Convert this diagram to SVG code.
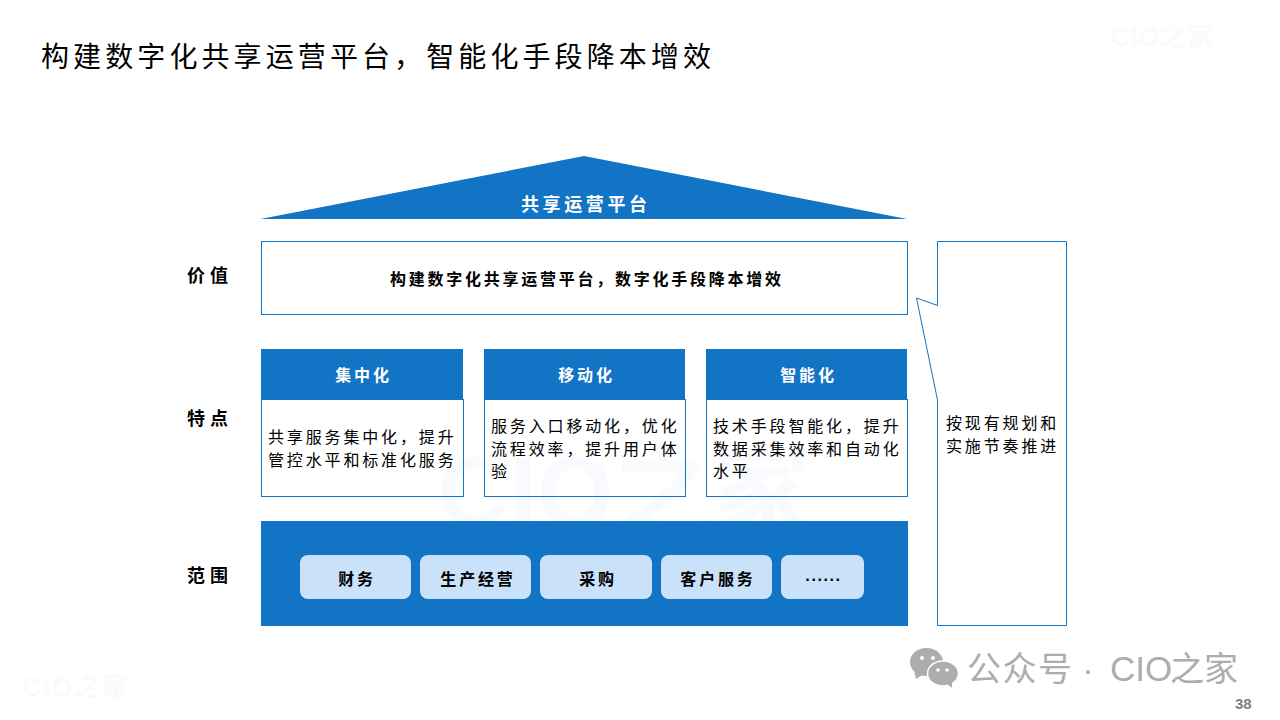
<svg xmlns="http://www.w3.org/2000/svg" width="1280" height="720" viewBox="0 0 1280 720">
<style>
text{font-family:"Noto Sans CJK SC","Liberation Sans",sans-serif;fill:#000}
.b{font-weight:700}
.s16{font-size:16px;letter-spacing:2.85px}
.s18{font-size:18px;letter-spacing:3.6px}
.lab{letter-spacing:5px}
.c{text-anchor:middle}
.w{fill:#fff}
.fill{fill:#1274C4}
.line{fill:#fff;fill-opacity:0;stroke:#1274C4;stroke-width:1}
.pill{fill:#C9E2F9}
.wm{font-family:"Liberation Sans","Noto Sans CJK SC",sans-serif;font-weight:700;fill:#F9FAFD}
.gr{fill:#ADADAD}
</style>
<rect width="1280" height="720" fill="#fff"/>
<g id="watermarks">
<text class="wm" x="1111" y="46" font-size="26" textLength="102">CIO之家</text>
<text class="wm" x="22" y="696" font-size="26" textLength="106">CIO之家</text>
<text class="wm" x="438" y="526" font-size="98" textLength="372">CIO之家</text>
</g>
<text id="title" x="41" y="67" font-size="28" letter-spacing="4.100">构建数字化共享运营平台，智能化手段降本增效</text>
<g id="roof">
<polygon class="fill" points="260.500,219 584,156 907,219"/>
<text class="b s18 c w" x="585.800" y="211">共享运营平台</text>
</g>
<g id="labels">
<text class="b s18 lab" x="187" y="282">价值</text>
<text class="b s18 lab" x="187" y="425">特点</text>
<text class="b s18 lab" x="187" y="582">范围</text>
</g>
<g id="value">
<rect class="line" x="261.500" y="241.500" width="646" height="73"/>
<text class="b s16 c" x="586.900" y="285" style="letter-spacing:2.75px">构建数字化共享运营平台，数字化手段降本增效</text>
</g>
<g id="feature1">
<rect class="fill" x="261" y="349" width="202" height="51"/>
<rect class="line" x="261.500" y="399.500" width="202" height="97"/>
<text class="b s16 c w" x="363.500" y="381">集中化</text>
<text class="s16" x="268" y="443">共享服务集中化，提升</text>
<text class="s16" x="268" y="466">管控水平和标准化服务</text>
</g>
<g id="feature2">
<rect class="fill" x="484" y="349" width="201" height="51"/>
<rect class="line" x="484.500" y="399.500" width="201" height="97"/>
<text class="b s16 c w" x="586.500" y="381">移动化</text>
<text class="s16" x="491" y="432">服务入口移动化，优化</text>
<text class="s16" x="491" y="455">流程效率，提升用户体</text>
<text class="s16" x="491" y="477">验</text>
</g>
<g id="feature3">
<rect class="fill" x="706" y="349" width="201" height="51"/>
<rect class="line" x="706.500" y="399.500" width="201" height="97"/>
<text class="b s16 c w" x="808.500" y="381">智能化</text>
<text class="s16" x="713" y="432">技术手段智能化，提升</text>
<text class="s16" x="713" y="455">数据采集效率和自动化</text>
<text class="s16" x="713" y="477">水平</text>
</g>
<g id="scope">
<rect class="fill" x="261" y="521" width="647" height="105"/>
<g id="scope-finance"><rect class="pill" x="300" y="555" width="111" height="44" rx="8"/><text class="b s16 c" x="357" y="585">财务</text></g>
<g id="scope-production"><rect class="pill" x="420" y="555" width="111" height="44" rx="8"/><text class="b s16 c" x="478" y="585">生产经营</text></g>
<g id="scope-purchase"><rect class="pill" x="540" y="555" width="112" height="44" rx="8"/><text class="b s16 c" x="598" y="585">采购</text></g>
<g id="scope-service"><rect class="pill" x="661" y="555" width="111" height="44" rx="8"/><text class="b s16 c" x="718" y="585">客户服务</text></g>
<g id="scope-more"><rect class="pill" x="781" y="555" width="83" height="44" rx="8"/><text class="b c" x="823.500" y="581" font-size="16" letter-spacing="1.600" style="font-family:'Liberation Sans',sans-serif">......</text></g>
</g>
<g id="callout">
<path class="line" d="M937.500 241.500H1066.500V625.500H937.500V400L916.500 298L937.500 305.500Z"/>
<text class="s16" x="946" y="429">按现有规划和</text>
<text class="s16" x="946" y="452">实施节奏推进</text>
</g>
<g id="wechat-mark">
<g fill="#ADADAD">
<ellipse cx="926.500" cy="662" rx="16.500" ry="14"/>
<path d="M914 670l2 9 8-5z"/>
<ellipse cx="943" cy="673.500" rx="15.500" ry="12.500" stroke="#fff" stroke-width="1.500"/>
<path d="M947 684l5 4v-6z"/>
</g>
<g fill="#fff"><circle cx="922" cy="658" r="2"/><circle cx="933" cy="658" r="2"/><circle cx="938" cy="670" r="1.800"/><circle cx="947" cy="670" r="1.800"/></g>
<g class="gr" style="font-size:34px">
<text class="gr" x="967" y="681" letter-spacing="1.500">公众号</text>
<text class="gr" x="1088" y="681" text-anchor="middle" style="font-family:'Liberation Sans',sans-serif">·</text>
<text class="gr" x="1110" y="681" style="font-family:'Liberation Sans',sans-serif" font-size="35">CIO</text>
<text class="gr" x="1170" y="681">之家</text>
</g>
</g>
<text id="page" x="1235" y="709" font-size="15" font-weight="700" style="font-family:'Liberation Sans',sans-serif;fill:#7F7F7F">38</text>
</svg>
